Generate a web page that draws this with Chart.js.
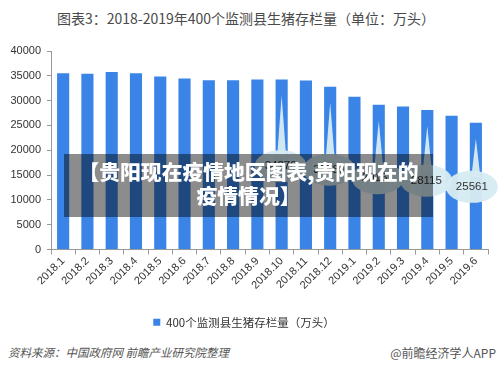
<!DOCTYPE html>
<html>
<head>
<meta charset="utf-8">
<script src="https://cdn.jsdelivr.net/npm/chart.js@4/dist/chart.umd.min.js"></script>
<style>
  html, body { margin: 0; padding: 0; background: #fff; }
  body { width: 500px; height: 371px; position: relative; overflow: hidden;
         font-family: "Liberation Sans", "Noto Sans CJK SC", sans-serif; }
  #title { position: absolute; top: 8px; left: 0; width: 492px; text-align: center;
           font-size: 14px; color: #4a4a4a; font-family: "Noto Sans CJK SC", sans-serif; }
  #wrap { position: absolute; top: 0; left: 0; width: 500px; height: 338px; }
  #src { position: absolute; left: 8px; top: 344px; font-size: 11.5px; color: #555;
         font-style: italic; font-family: "Noto Sans CJK SC", sans-serif; }
  #app { position: absolute; right: 4px; top: 344px; font-size: 12px; color: #555;
         font-family: "Noto Sans CJK SC", sans-serif; }
  #overlay { position: absolute; left: 64px; top: 154px; width: 369px; height: 63px;
             background: rgba(0,0,0,0.45); color: #fff; text-align: center;
             font-weight: 900; font-size: 20.8px; line-height: 24px; padding-top: 5px;
             box-sizing: border-box; font-family: "Noto Sans CJK SC", sans-serif; }
</style>
</head>
<body>
<div id="title">图表3：2018-2019年400个监测县生猪存栏量（单位：万头）</div>
<div id="wrap"><canvas id="chart"></canvas></div>
<div id="src">资料来源：中国政府网 前瞻产业研究院整理</div>
<div id="app">@前瞻经济学人APP</div>
<div id="overlay">【贵阳现在疫情地区图表,贵阳现在的<br>疫情情况】</div>
<script>
const months = ["2018.1","2018.2","2018.3","2018.4","2018.5","2018.6","2018.7","2018.8","2018.9",
                "2018.10","2018.11","2018.12","2019.1","2019.2","2019.3","2019.4","2019.5","2019.6"];
const stock = [35540, 35400, 35750, 35540, 34880, 34475, 34130, 34130, 34270,
               34270, 34070, 32780, 30765, 29167, 28830, 28115, 26935, 25561];
const yTicks = [0, 5000, 10000, 15000, 20000, 25000, 30000, 35000, 40000];
// months that get a speech-bubble label
const calloutIdx = [9, 11, 13, 15, 17];

const FONT = "'Liberation Sans', 'Noto Sans CJK SC', sans-serif";

const bubbles = {
  id: "bubbles",
  afterDatasetsDraw(chart){
    const ctx = chart.ctx;
    const meta = chart.getDatasetMeta(0);
    ctx.save();
    calloutIdx.forEach(i => {
      const bar = meta.data[i];
      const x = bar.x;
      const tip = bar.y + 16;
      const cy = 128 + bar.y * 0.48;
      const cx = i === 17 ? x - 4 : x - 1;
      ctx.fillStyle = "rgba(214,235,243,0.96)";
      ctx.beginPath();
      ctx.moveTo(x, tip);
      ctx.lineTo(x + 4.5, cy - 10);
      ctx.lineTo(x - 4.5, cy - 10);
      ctx.closePath();
      ctx.fill();
      ctx.beginPath();
      ctx.ellipse(cx, cy, 26, 16, 0, 0, Math.PI * 2);
      ctx.fill();
      ctx.fillStyle = "#333";
      ctx.font = "11.5px " + FONT;
      ctx.textAlign = "center";
      ctx.textBaseline = "middle";
      ctx.fillText(String(stock[i]), cx, cy);
    });
    ctx.restore();
  }
};

new Chart(document.getElementById("chart"), {
  type: "bar",
  data: {
    labels: months,
    datasets: [{
      label: "400个监测县生猪存栏量（万头）",
      data: stock,
      backgroundColor: "#3a84e8",
      barPercentage: 0.5,
      categoryPercentage: 1.0
    }]
  },
  options: {
    responsive: true,
    maintainAspectRatio: false,
    animation: false,
    layout: { padding: { top: 51, right: 12, left: 0, bottom: 0 } },
    plugins: {
      title: { display: false },
      tooltip: { enabled: false },
      legend: {
        position: "bottom",
        labels: {
          boxWidth: 7, boxHeight: 7, padding: 10,
          color: "#333",
          font: { size: 11.5, family: "'Noto Sans CJK SC', sans-serif" }
        }
      }
    },
    scales: {
      x: {
        afterFit(s){ s.height = 57; },
        grid: { display: true, drawOnChartArea: false, drawTicks: true, tickLength: 5, color: "#999" },
        border: { color: "#999" },
        ticks: { minRotation: 45, maxRotation: 45, color: "#333", padding: 0,
                 font: { size: 11, family: FONT } }
      },
      y: {
        min: 0, max: 40000,
        afterFit(s){ s.width = 51; },
        afterBuildTicks(s){ s.ticks = yTicks.map(v => ({ value: v })); },
        grid: { display: true, drawOnChartArea: false, drawTicks: true, tickLength: 4, color: "#999" },
        border: { color: "#999" },
        ticks: { color: "#333", padding: 6, font: { size: 11, family: FONT },
                 callback: (v) => String(v) }
      }
    }
  },
  plugins: [bubbles]
});
</script>
</body>
</html>
